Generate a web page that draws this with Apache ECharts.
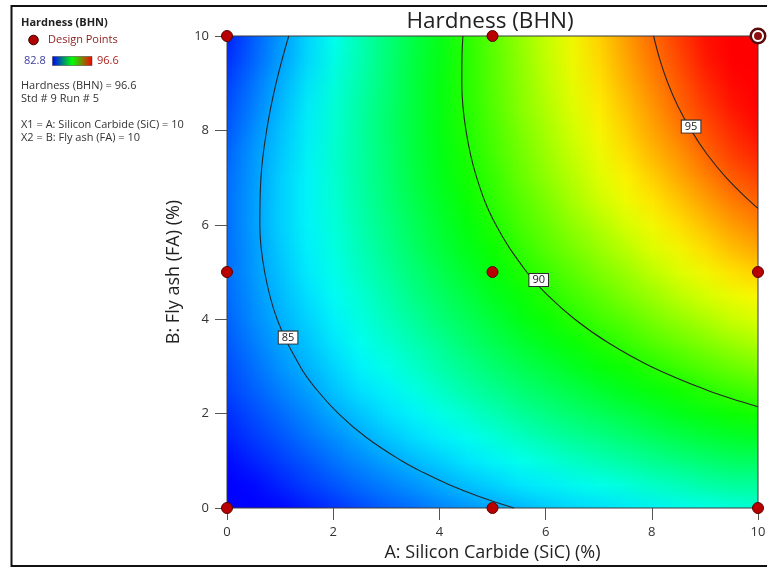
<!DOCTYPE html>
<html>
<head>
<meta charset="utf-8">
<script src="https://cdn.jsdelivr.net/npm/echarts@6/dist/echarts.min.js"></script>
<style>
html,body{margin:0;padding:0;background:#fff}
#wrap{position:relative;width:767px;height:569px;overflow:hidden}
#chart{position:absolute;left:0;top:0;width:767px;height:569px;z-index:2}
#heatClip{position:absolute;left:227px;top:36px;width:531px;height:472px;overflow:hidden;z-index:1}
#heat{position:absolute;left:-13.275px;top:-11.8px;width:21px;height:21px;transform-origin:0 0;transform:scale(26.55,23.6)}
</style>
</head>
<body>
<div id="wrap">
  <div id="heatClip"><div id="heat"></div></div>
  <div id="chart"></div>
</div>
<script>
// ---- data ----
const xValues = [0,0.5,1,1.5,2,2.5,3,3.5,4,4.5,5,5.5,6,6.5,7,7.5,8,8.5,9,9.5,10];
const yValues = [0,0.5,1,1.5,2,2.5,3,3.5,4,4.5,5,5.5,6,6.5,7,7.5,8,8.5,9,9.5,10];
// hardness rows, one per yValue (bottom to top), values along xValues
const hardnessRows = [
[82.1,82.4,82.7,83.0,83.3,83.6,83.9,84.1,84.4,84.6,84.8,85.0,85.3,85.5,85.6,85.8,86.0,86.2,86.3,86.4,86.6],
[82.5,82.8,83.1,83.5,83.8,84.1,84.4,84.6,84.9,85.2,85.4,85.7,85.9,86.1,86.3,86.5,86.7,86.9,87.1,87.3,87.4],
[82.8,83.1,83.5,83.8,84.2,84.5,84.8,85.1,85.4,85.7,86.0,86.3,86.5,86.8,87.0,87.2,87.5,87.7,87.9,88.1,88.2],
[83.1,83.5,83.8,84.2,84.6,84.9,85.3,85.6,85.9,86.2,86.5,86.8,87.1,87.4,87.6,87.9,88.1,88.4,88.6,88.8,89.0],
[83.3,83.7,84.1,84.5,84.9,85.3,85.7,86.0,86.4,86.7,87.0,87.4,87.7,88.0,88.2,88.5,88.8,89.1,89.3,89.6,89.8],
[83.6,84.0,84.4,84.8,85.3,85.7,86.0,86.4,86.8,87.2,87.5,87.9,88.2,88.5,88.8,89.1,89.4,89.7,90.0,90.2,90.5],
[83.7,84.2,84.7,85.1,85.5,86.0,86.4,86.8,87.2,87.6,88.0,88.3,88.7,89.0,89.4,89.7,90.0,90.3,90.6,90.9,91.2],
[83.9,84.4,84.9,85.3,85.8,86.3,86.7,87.1,87.5,88.0,88.4,88.8,89.1,89.5,89.9,90.2,90.6,90.9,91.2,91.5,91.9],
[84.0,84.6,85.1,85.5,86.0,86.5,87.0,87.4,87.9,88.3,88.7,89.2,89.6,90.0,90.4,90.7,91.1,91.5,91.8,92.2,92.5],
[84.1,84.7,85.2,85.7,86.2,86.7,87.2,87.7,88.2,88.6,89.1,89.5,90.0,90.4,90.8,91.2,91.6,92.0,92.4,92.7,93.1],
[84.2,84.8,85.3,85.9,86.4,86.9,87.4,87.9,88.4,88.9,89.4,89.9,90.3,90.8,91.2,91.6,92.1,92.5,92.9,93.3,93.6],
[84.2,84.8,85.4,86.0,86.5,87.1,87.6,88.2,88.7,89.2,89.7,90.2,90.7,91.1,91.6,92.0,92.5,92.9,93.4,93.8,94.2],
[84.2,84.9,85.5,86.1,86.6,87.2,87.8,88.3,88.9,89.4,89.9,90.5,91.0,91.5,91.9,92.4,92.9,93.4,93.8,94.2,94.7],
[84.2,84.9,85.5,86.1,86.7,87.3,87.9,88.5,89.0,89.6,90.2,90.7,91.2,91.8,92.3,92.8,93.3,93.7,94.2,94.7,95.1],
[84.2,84.8,85.5,86.1,86.7,87.4,88.0,88.6,89.2,89.8,90.3,90.9,91.5,92.0,92.6,93.1,93.6,94.1,94.6,95.1,95.6],
[84.1,84.8,85.4,86.1,86.8,87.4,88.0,88.7,89.3,89.9,90.5,91.1,91.7,92.2,92.8,93.4,93.9,94.4,95.0,95.5,96.0],
[83.9,84.7,85.4,86.0,86.7,87.4,88.1,88.7,89.4,90.0,90.6,91.2,91.8,92.4,93.0,93.6,94.2,94.7,95.3,95.8,96.4],
[83.8,84.5,85.2,86.0,86.7,87.4,88.1,88.7,89.4,90.1,90.7,91.4,92.0,92.6,93.2,93.8,94.4,95.0,95.6,96.1,96.7],
[83.6,84.4,85.1,85.9,86.6,87.3,88.0,88.7,89.4,90.1,90.8,91.4,92.1,92.7,93.4,94.0,94.6,95.2,95.8,96.4,97.0],
[83.4,84.2,84.9,85.7,86.5,87.2,88.0,88.7,89.4,90.1,90.8,91.5,92.2,92.9,93.5,94.2,94.8,95.4,96.1,96.7,97.3],
[83.1,83.9,84.7,85.5,86.3,87.1,87.9,88.6,89.3,90.1,90.8,91.5,92.2,92.9,93.6,94.3,95.0,95.6,96.3,96.9,97.5]
];
const colorMin = 82.8;
const colorMax = 96.6;
const xTickValues = [0,2,4,6,8,10];
const yTickValues = [0,2,4,6,8,10];
const contour85 = [[1.162,10],[0.924,9],[0.746,8],[0.639,7],[0.618,6],[0.709,5],[0.944,4],[1.377,3],[1.694,2.5],[2.099,2],[2.618,1.5],[3.288,1],[3.699,0.75],[4.175,0.5],[4.733,0.25],[5.406,0]];
const contour90 = [[4.443,10],[4.424,9.5],[4.422,9],[4.500,8],[4.702,7],[5.063,6],[5.644,5],[6.047,4.5],[6.550,4],[7.181,3.5],[7.982,3],[9.031,2.5],[9.694,2.25],[10,2.147]];
const contour95 = [[8.034,10],[8.152,9.5],[8.304,9],[8.497,8.5],[8.741,8],[9.037,7.5],[9.401,7],[9.846,6.5],[10,6.347]];
const contourLabels = [[1.15,3.61,'85'],[5.87,4.83,'90'],[8.74,8.08,'95']];
const designX = [0,5,10,0,5,10,0,5];
const designY = [0,0,0,5,5,5,10,10];
const selectedPoint = [[10,10]];

const FONT = '"Open Sans", "Noto Sans", sans-serif';
const colorStops = ['#0000ff', '#00ffff', '#00ff00', '#ffff00', '#ff0000'];

// ---- response surface: heatmap (one cell per grid node; the browser smooths it when scaled) ----
const heatData = [];
hardnessRows.forEach((row, j) => row.forEach((v, i) => heatData.push([i, j, v])));
const heat = echarts.init(document.getElementById('heat'), null, {devicePixelRatio: 1});
heat.setOption({
  animation: false,
  grid: {left: 0, top: 0, right: 0, bottom: 0, outerBoundsMode: 'none', containLabel: false},
  xAxis: {type: 'category', data: xValues.map(String), show: false},
  yAxis: {type: 'category', data: yValues.map(String), show: false},
  visualMap: {type: 'continuous', show: false, min: colorMin, max: colorMax, seriesIndex: 0,
    inRange: {color: colorStops}},
  series: [{type: 'heatmap', data: heatData, silent: true, progressive: 0, emphasis: {disabled: true}}]
});

// ---- axes, contours, design points, texts ----
const plot = {left: 227, top: 36, width: 531, height: 472};
const chart = echarts.init(document.getElementById('chart'));
const legendText = (text, x, y, extra) => ({
  type: 'text', x: x, y: y, silent: true,
  style: Object.assign({text: text, font: '11px ' + FONT, fill: '#333', align: 'left', verticalAlign: 'middle', textAlign: 'left', textVerticalAlign: 'middle'}, extra || {})
});
const contourLine = data => ({
  type: 'line', data: data, smooth: 0.4, symbol: 'none', silent: true, clip: false, z: 4,
  lineStyle: {color: '#262626', width: 1.1}
});
chart.setOption({
  backgroundColor: 'transparent',
  animation: false,
  textStyle: {fontFamily: FONT},
  grid: Object.assign({show: true, borderColor: '#3a3a3a', borderWidth: 1, backgroundColor: 'transparent', outerBoundsMode: 'none'}, plot),
  xAxis: {type: 'value', min: 0, max: 10, interval: 2,
     name: 'A: Silicon Carbide (SiC) (%)', nameLocation: 'middle', nameGap: 34,
     nameTextStyle: {fontSize: 18, color: '#222', fontFamily: FONT},
     axisLine: {show: false}, splitLine: {show: false},
     axisTick: {show: true, length: 12, lineStyle: {color: '#555'}},
     axisLabel: {margin: 18, fontSize: 13, color: '#333', fontFamily: FONT}},
  yAxis: {type: 'value', min: 0, max: 10, interval: 2,
     name: 'B: Fly ash (FA) (%)', nameLocation: 'middle', nameGap: 43,
     nameTextStyle: {fontSize: 18, color: '#222', fontFamily: FONT},
     axisLine: {show: false}, splitLine: {show: false},
     axisTick: {show: true, length: 12, lineStyle: {color: '#555'}},
     axisLabel: {margin: 18, fontSize: 13, color: '#333', fontFamily: FONT}},
  graphic: [
    {type: 'polyline', silent: true, shape: {points: [[767, 6], [11.5, 6], [11.5, 566], [767, 566]]}, style: {stroke: '#111', lineWidth: 2, fill: null}},
    {type: 'text', x: 490, y: 22, silent: true,
     style: {text: 'Hardness (BHN)', font: '22.5px ' + FONT, fill: '#222', align: 'center', verticalAlign: 'middle', textAlign: 'center', textVerticalAlign: 'middle'}},
    legendText('Hardness (BHN)', 21, 23, {font: 'bold 11px ' + FONT, fill: '#222'}),
    {type: 'circle', silent: true, shape: {cx: 33.5, cy: 40, r: 4.8}, style: {fill: '#b00000', stroke: '#3a0000', lineWidth: 1}},
    legendText('Design Points', 48, 40, {fill: '#8b1c1c'}),
    legendText('82.8', 24, 61, {fill: '#3d3d9e'}),
    {type: 'rect', silent: true, shape: {x: 52.5, y: 56.5, width: 39.5, height: 9},
     style: {stroke: '#333', lineWidth: 0.5, fill: new echarts.graphic.LinearGradient(0, 0, 1, 0, [
       {offset: 0, color: '#0000ff'}, {offset: 0.5, color: '#00ff00'}, {offset: 1, color: '#ff0000'}])}},
    legendText('96.6', 97, 61, {fill: '#b22222'}),
    legendText('Hardness (BHN) = 96.6', 21, 86),
    legendText('Std # 9 Run # 5', 21, 99),
    legendText('X1 = A: Silicon Carbide (SiC) = 10', 21, 125),
    legendText('X2 = B: Fly ash (FA) = 10', 21, 138)
  ],
  series: [
    contourLine(contour85),
    contourLine(contour90),
    contourLine(contour95),
    {type: 'scatter', data: contourLabels, symbol: 'rect', symbolSize: 1, silent: true, clip: false, z: 5,
     itemStyle: {color: 'rgba(0,0,0,0)', opacity: 1},
     label: {show: true, position: 'inside', formatter: p => p.value[2], fontSize: 11, color: '#1a1a1a', fontFamily: FONT,
       backgroundColor: '#ffffff', borderColor: '#2a2a2a', borderWidth: 1, padding: [1, 3, 0, 3], opacity: 1}},
    {type: 'scatter', data: designX.map((x, k) => [x, designY[k]]), symbolSize: 11, silent: true, clip: false, z: 6,
     itemStyle: {color: '#b80000', borderColor: '#5a0000', borderWidth: 1, opacity: 1}},
    {type: 'scatter', data: selectedPoint, symbolSize: 17, silent: true, clip: false, z: 6,
     itemStyle: {color: '#5a0a0a', opacity: 1}},
    {type: 'scatter', data: selectedPoint, symbolSize: 10, silent: true, clip: false, z: 7,
     itemStyle: {color: '#8e0e0e', borderColor: '#ffffff', borderWidth: 2, opacity: 1}}
  ]
});
</script>
</body>
</html>
